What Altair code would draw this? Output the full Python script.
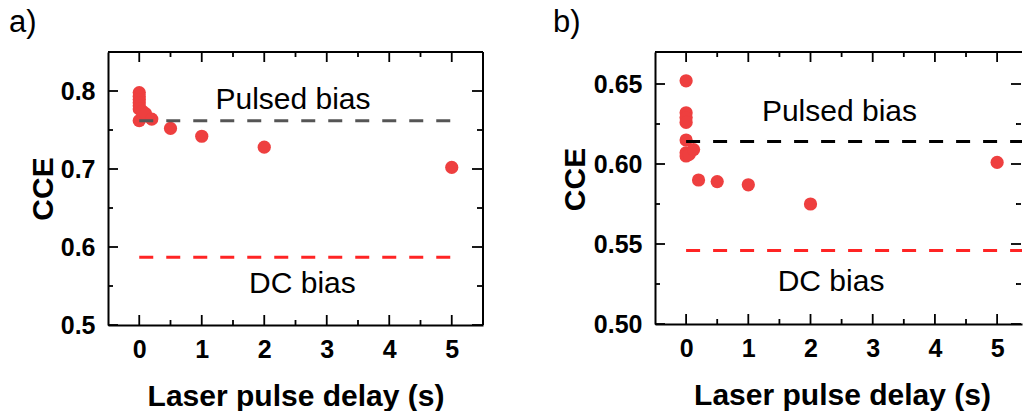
import altair as alt
import pandas as pd

FONT = "Liberation Sans"
DOT_RED = "#ee3f3f"
LINE_RED = "#ff2424"

# ---- panel a ----
a_delay = [0, 0, 0, 0, 0, 0, 0, 0.05, 0.1, 0.2, 0.5, 1, 2, 5]
a_cce = [0.798, 0.793, 0.789, 0.785, 0.781, 0.777, 0.762, 0.774, 0.771, 0.764, 0.752, 0.742, 0.728, 0.702]
a_pulsed = 0.762
a_dc = 0.587
a_yticks = [0.5, 0.6, 0.7, 0.8]
a_yminor = [0.55, 0.65, 0.75]

# ---- panel b ----
b_delay = [0, 0, 0, 0, 0, 0, 0, 0.05, 0.12, 0.2, 0.5, 1, 2, 5]
b_cce = [0.652, 0.632, 0.629, 0.626, 0.615, 0.607, 0.605, 0.606, 0.609, 0.590, 0.589, 0.587, 0.575, 0.601]
b_pulsed = 0.614
b_dc = 0.546
b_yticks = [0.50, 0.55, 0.60, 0.65]
b_yminor = [0.525, 0.575, 0.625]

x_major = [0, 1, 2, 3, 4, 5]
x_minor = [0.5, 1.5, 2.5, 3.5, 4.5]

# annotation anchors (x centre, text baseline) in data units
a_notes = {"label": ["Pulsed bias", "DC bias"], "x": [2.46, 2.61], "y": [0.777, 0.541]}
b_notes = {"label": ["Pulsed bias", "DC bias"], "x": [2.465, 2.33], "y": [0.627, 0.5206]}

MAJOR = 10
MINOR = 5
TICK_W = 1.8
LABEL_SIZE = 25


def panel(tag, delay, cce, pulsed, pulsed_color, dc, line_end, xdom, ydom,
          yticks, yminor, yfmt, width, height, notes, ytitle_x, ytitle_y,
          xtitle_x, tag_x, right_border):
    xs = alt.Scale(domain=xdom, nice=False, zero=False)
    ys = alt.Scale(domain=ydom, nice=False, zero=False)

    x_axis = alt.Axis(
        values=x_major, format="d", ticks=False, tickSize=0, grid=False,
        domain=True, domainColor="black", domainWidth=2,
        labelFont=FONT, labelFontSize=LABEL_SIZE, labelFontWeight="bold", labelColor="black",
        labelPadding=32, labelBaseline="alphabetic",
        title="Laser pulse delay (s)", titleFont=FONT, titleFontSize=30,
        titleFontWeight="bold", titleColor="black", titleBaseline="alphabetic",
        titleY=80, titleX=xtitle_x,
    )
    y_axis = alt.Axis(
        values=yticks, format=yfmt, ticks=False, tickSize=0, grid=False,
        domain=True, domainColor="black", domainWidth=2,
        labelFont=FONT, labelFontSize=LABEL_SIZE, labelFontWeight="bold", labelColor="black",
        labelPadding=13,
        title="CCE", titleFont=FONT, titleFontSize=30, titleFontWeight="bold",
        titleColor="black", titleAngle=270, titleBaseline="alphabetic",
        titleAlign="center", titleX=ytitle_x, titleY=ytitle_y,
    )

    pts = pd.DataFrame({"delay": delay, "cce": cce})
    points = alt.Chart(pts).mark_circle(size=175, color=DOT_RED, opacity=1).encode(
        x=alt.X("delay:Q", scale=xs, axis=x_axis),
        y=alt.Y("cce:Q", scale=ys, axis=y_axis),
    )

    refs = pd.DataFrame({
        "x0": [0, 0], "x1": [line_end, line_end], "y": [pulsed, dc],
        "kind": ["pulsed", "dc"],
    })
    pulsed_line = alt.Chart(refs[refs.kind == "pulsed"]).mark_rule(
        color=pulsed_color, strokeDash=[14, 13], strokeWidth=3
    ).encode(
        x=alt.X("x0:Q", scale=xs), x2="x1:Q",
        y=alt.Y("y:Q", scale=ys),
    )
    dc_line = alt.Chart(refs[refs.kind == "dc"]).mark_rule(
        color=LINE_RED, strokeDash=[14, 13], strokeWidth=3
    ).encode(
        x=alt.X("x0:Q", scale=xs), x2="x1:Q",
        y=alt.Y("y:Q", scale=ys),
    )

    notes_df = pd.DataFrame(notes)
    note_text = alt.Chart(notes_df).mark_text(
        font=FONT, fontSize=30, color="black", align="center", baseline="alphabetic"
    ).encode(
        x=alt.X("x:Q", scale=xs),
        y=alt.Y("y:Q", scale=ys),
        text="label:N",
    )

    def xtick(vals, length, top):
        y0 = 0 if top else height
        y1 = length if top else height - length
        return alt.Chart(pd.DataFrame({"v": vals})).mark_rule(
            color="black", strokeWidth=TICK_W
        ).encode(
            x=alt.X("v:Q", scale=xs), y=alt.value(y0), y2=alt.value(y1)
        )

    def ytick(vals, length, right):
        x0 = (width - 1) if right else 0
        x1 = (width - 1 - length) if right else length
        return alt.Chart(pd.DataFrame({"v": vals})).mark_rule(
            color="black", strokeWidth=TICK_W
        ).encode(
            y=alt.Y("v:Q", scale=ys), x=alt.value(x0), x2=alt.value(x1)
        )

    frame = pd.DataFrame({"d": [0]})
    top_border = alt.Chart(frame).mark_rule(color="black", strokeWidth=2).encode(
        x=alt.value(0), x2=alt.value(width), y=alt.value(0)
    )
    layers = [
        pulsed_line, dc_line,
        xtick(x_major, MAJOR, False), xtick(x_minor, MINOR, False),
        xtick(x_major, MAJOR, True), xtick(x_minor, MINOR, True),
        ytick(yticks, MAJOR, False), ytick(yminor, MINOR, False),
        ytick(yticks, MAJOR, True), ytick(yminor, MINOR, True),
        top_border,
    ]
    if right_border:
        layers.append(alt.Chart(frame).mark_rule(color="black", strokeWidth=2).encode(
            x=alt.value(width), y=alt.value(0), y2=alt.value(height)
        ))

    tag_mark = alt.Chart(pd.DataFrame({"t": [tag]})).mark_text(
        font=FONT, fontSize=31, color="black", align="left", baseline="alphabetic"
    ).encode(text="t:N", x=alt.value(tag_x), y=alt.value(-20))

    return alt.layer(points, *layers, note_text, tag_mark).properties(
        width=width, height=height
    )


panel_a = panel("a)", a_delay, a_cce, a_pulsed, "#555555", a_dc, 5,
                [-0.5, 5.5], [0.5, 0.85], a_yticks, a_yminor, ".1f",
                375, 273, a_notes, -56, 136.5, 187.5, -99, True)

panel_b = panel("b)", b_delay, b_cce, b_pulsed, "black", b_dc, 5.40,
                [-0.5, 5.40], [0.5, 0.67], b_yticks, b_yminor, ".2f",
                367, 272, b_notes, -71, 127, 187, -102, False)

chart = alt.hconcat(panel_a, panel_b, spacing=69).properties(
    padding={"left": 9, "top": 7, "right": 0, "bottom": 0},
    background="white",
).configure_view(stroke=None).configure_axis(grid=False)

chart.save("out.html", embed_options={"renderer": "svg", "actions": False})
